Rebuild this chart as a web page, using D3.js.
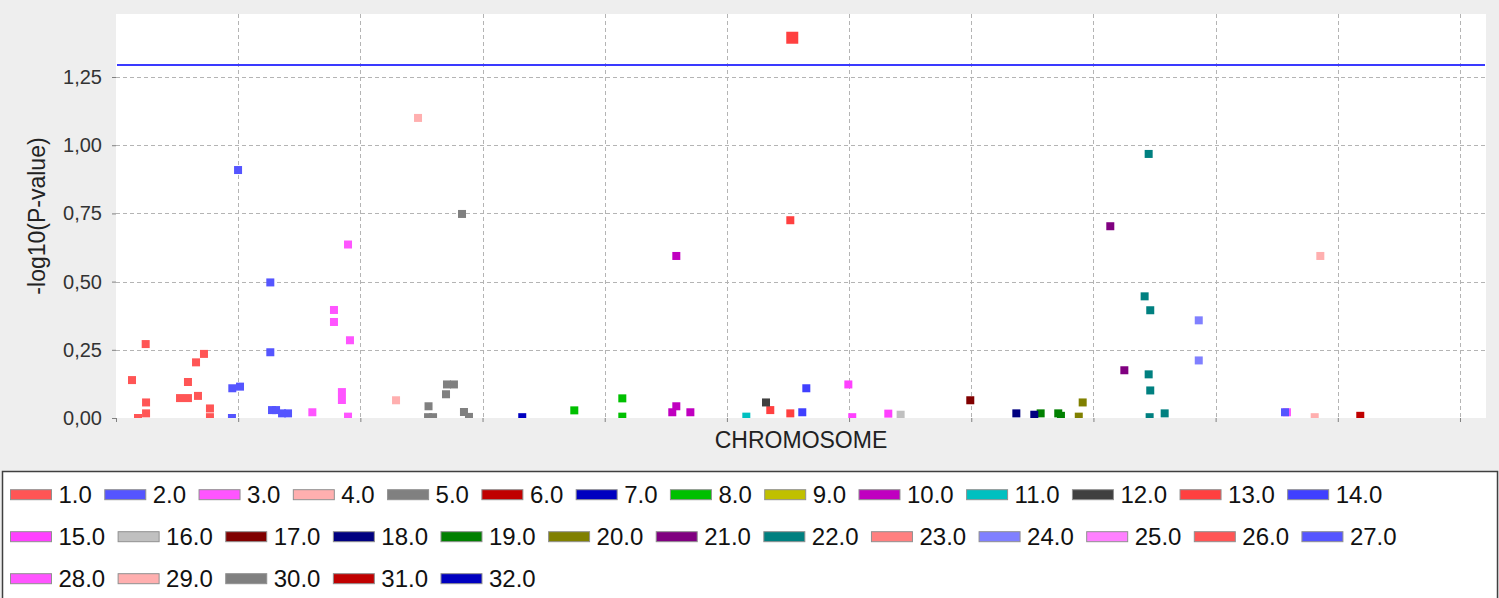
<!DOCTYPE html>
<html>
<head>
<meta charset="utf-8">
<script src="https://cdn.jsdelivr.net/npm/d3@7"></script>
<style>
  body { margin: 0; background: #eeeeee; }
  svg { display: block; }
</style>
</head>
<body>
<svg id="chart"></svg>
<script>
const containerWidth = 1499;
const containerHeight = 598;

// chromosome legend labels and the series palette
const chromosomes = d3.range(1, 33).map(d => d.toFixed(1));
const palette = [
  "#ff5555", "#5555ff", "#ff55ff", "#ffafaf", "#808080", "#c00000", "#0000c0", "#00c000",
  "#c0c000", "#c000c0", "#00c0c0", "#404040", "#ff4040", "#4040ff", "#ff40ff", "#c0c0c0",
  "#800000", "#000080", "#008000", "#808000", "#800080", "#008080", "#ff8080", "#8080ff",
  "#ff80ff", "#ff5555", "#5555ff", "#ff55ff", "#ffafaf", "#808080", "#c00000", "#0000c0"
];

// markers: chromosome, position on the x axis, -log10(p)
const pointChrom = [
  1, 1, 1, 1, 1, 1, 1, 1, 1, 1, 1, 1, 1,
  2, 2, 2, 2, 2, 2, 2, 2, 2, 2,
  3, 3, 3, 3, 3, 3, 3, 3,
  4, 4,
  5, 5, 5, 5, 5, 5, 5, 5, 5,
  7,
  8, 8, 8,
  10, 10, 10, 10,
  11,
  12,
  13, 13, 13, 13,
  14, 14,
  15, 15, 15,
  16,
  17,
  18, 18,
  19, 19, 19,
  20, 20,
  21, 21,
  22, 22, 22, 22, 22, 22, 22,
  24, 24,
  27,
  28,
  29, 29,
  31
];
const pointPos = [
  13.1, 24.3, 24.6, 24.6, 18.0, 58.9, 52.4, 58.9, 65.5, 72.0, 67.1, 76.9, 76.9,
  99.9, 126.3, 126.3, 95.2, 101.5, 94.9, 127.7, 131.0, 135.9, 140.8,
  189.9, 178.4, 178.4, 191.5, 184.9, 184.9, 160.7, 189.9,
  247.2, 229.2,
  283.2, 270.9, 276.6, 270.1, 255.8, 255.4, 259.5, 284.8, 288.9,
  332.5,
  375.1, 414.4, 414.4,
  458.6, 458.6, 455.3, 470.1,
  515.9,
  532.0,
  553.5, 551.9, 535.5, 551.9,
  565.0, 561.7,
  599.4, 602.6, 632.1,
  642.2,
  699.2,
  736.9, 751.6,
  756.8, 771.2, 773.4,
  791.2, 788.0,
  813.8, 825.3,
  845.2, 841.9, 846.5, 845.2, 846.5, 846.0, 858.3,
  886.2, 886.2,
  956.8,
  958.4,
  985.7, 981.1,
  1018.4
];
const pointLogP = [
  0.139, 0.271, 0.057, 0.017, 0.000, 0.132, 0.073, 0.073, 0.204, 0.235, 0.081, 0.035, 0.003,
  0.909, 0.497, 0.241, 0.109, 0.115, 0.000, 0.029, 0.029, 0.017, 0.017,
  0.636, 0.396, 0.352, 0.285, 0.095, 0.066, 0.021, 0.005,
  1.100, 0.065,
  0.748, 0.123, 0.123, 0.087, 0.043, 0.003, 0.003, 0.022, 0.004,
  0.003,
  0.028, 0.072, 0.005,
  0.594, 0.043, 0.021, 0.021,
  0.005,
  0.057,
  1.394, 0.725, 0.029, 0.017,
  0.109, 0.021,
  0.123, 0.003, 0.016,
  0.012,
  0.065,
  0.017, 0.012,
  0.017, 0.017, 0.008,
  0.057, 0.005,
  0.703, 0.175,
  0.968, 0.446, 0.395, 0.160, 0.101, 0.003, 0.017,
  0.358, 0.211,
  0.021,
  0.021,
  0.594, 0.003,
  0.008
];

const xTicks = d3.range(0, 1101, 100);
const yTicks = [0, 0.25, 0.5, 0.75, 1.0, 1.25];
const threshold = 1.294;

const plot = {left: 116, right: 1486, top: 14, bottom: 418};

const svg = d3.select("#chart")
  .attr("width", containerWidth)
  .attr("height", containerHeight)
  .style("font-family", "'Liberation Sans', Arial, sans-serif");

svg.append("rect")
  .attr("width", containerWidth)
  .attr("height", containerHeight)
  .attr("fill", "#eeeeee");

const xScale = d3.scaleLinear().domain([0, 1121.3]).range([plot.left, plot.right]);
const yScale = d3.scaleLinear().domain([0, 1.481]).range([plot.bottom, plot.top]);

svg.append("defs").append("clipPath").attr("id", "plot-clip")
  .append("rect")
  .attr("x", plot.left).attr("y", plot.top)
  .attr("width", plot.right - plot.left)
  .attr("height", plot.bottom - plot.top);

svg.append("rect")
  .attr("x", plot.left).attr("y", plot.top)
  .attr("width", plot.right - plot.left)
  .attr("height", plot.bottom - plot.top)
  .attr("fill", "#ffffff");

// grid
const grid = svg.append("g")
  .attr("stroke", "#b4b4b4")
  .attr("stroke-width", 1)
  .attr("stroke-dasharray", "4,3");

grid.selectAll(".vgrid")
  .data(xTicks.slice(1))
  .join("line")
  .attr("class", "vgrid")
  .attr("x1", d => Math.round(xScale(d)) + 0.5)
  .attr("x2", d => Math.round(xScale(d)) + 0.5)
  .attr("y1", plot.top)
  .attr("y2", plot.bottom);

grid.selectAll(".hgrid")
  .data(yTicks.slice(1))
  .join("line")
  .attr("class", "hgrid")
  .attr("x1", plot.left)
  .attr("x2", plot.right)
  .attr("y1", d => Math.round(yScale(d)) + 0.5)
  .attr("y2", d => Math.round(yScale(d)) + 0.5);

// axes
const xAxis = svg.append("g")
  .attr("transform", `translate(0,${plot.bottom})`)
  .call(d3.axisBottom(xScale).tickValues(xTicks).tickSize(4).tickFormat(""));
xAxis.select(".domain").remove();
xAxis.selectAll(".tick line").attr("stroke", "#808080");

const yAxis = svg.append("g")
  .attr("transform", `translate(${plot.left},0)`)
  .call(d3.axisLeft(yScale).tickValues(yTicks).tickSize(4).tickPadding(10)
        .tickFormat(d => d3.format(".2f")(d).replace(".", ",")));
yAxis.select(".domain").remove();
yAxis.selectAll(".tick line").attr("stroke", "#808080");
yAxis.selectAll(".tick text")
  .attr("font-family", "'Liberation Sans', Arial, sans-serif")
  .attr("font-size", 20)
  .attr("fill", "#333333");

svg.append("text")
  .attr("x", (plot.left + plot.right) / 2)
  .attr("y", 448)
  .attr("text-anchor", "middle")
  .attr("font-size", 23)
  .attr("fill", "#222222")
  .text("CHROMOSOME");

svg.append("text")
  .attr("transform", `translate(45,${(plot.top + plot.bottom) / 2}) rotate(-90)`)
  .attr("text-anchor", "middle")
  .attr("font-size", 23)
  .attr("fill", "#222222")
  .text("-log10(P-value)");

// significance line
svg.append("line")
  .attr("x1", plot.left + 1)
  .attr("x2", plot.right - 1)
  .attr("y1", yScale(threshold))
  .attr("y2", yScale(threshold))
  .attr("stroke", "#3a3aff")
  .attr("stroke-width", 2);

// markers, first series drawn last (on top)
const points = pointChrom.map((c, i) => ({chrom: c, pos: pointPos[i], logp: pointLogP[i], order: i}))
  .sort((a, b) => b.chrom - a.chrom || a.order - b.order);

svg.append("g")
  .attr("clip-path", "url(#plot-clip)")
  .selectAll("rect")
  .data(points)
  .join("rect")
  .attr("width", d => d.logp > threshold ? 12 : 8)
  .attr("height", d => d.logp > threshold ? 12 : 8)
  .attr("x", d => xScale(d.pos) - (d.logp > threshold ? 6 : 4))
  .attr("y", d => yScale(d.logp) - (d.logp > threshold ? 6 : 4))
  .attr("fill", d => palette[d.chrom - 1]);

// legend
svg.append("rect")
  .attr("x", 2.5)
  .attr("y", 471.5)
  .attr("width", 1495)
  .attr("height", 140)
  .attr("fill", "#ffffff")
  .attr("stroke", "#404040")
  .attr("stroke-width", 1.5);

const legendRows = [chromosomes.slice(0, 14), chromosomes.slice(14, 27), chromosomes.slice(27)];
const legendRowY = [494.7, 536.7, 578.7];

legendRows.forEach((row, r) => {
  let x = 10;
  row.forEach(label => {
    const idx = chromosomes.indexOf(label);
    const item = svg.append("g");
    item.append("rect")
      .attr("x", x + 0.5)
      .attr("y", legendRowY[r] - 5)
      .attr("width", 41)
      .attr("height", 10)
      .attr("fill", palette[idx])
      .attr("stroke", "#909090")
      .attr("stroke-width", 1);
    const t = item.append("text")
      .attr("x", x + 48.5)
      .attr("y", legendRowY[r] + 8.5)
      .attr("font-size", 24)
      .attr("fill", "#111111")
      .text(label);
    x = x + 48.5 + t.node().getComputedTextLength() + 12.4;
  });
});
</script>
</body>
</html>
